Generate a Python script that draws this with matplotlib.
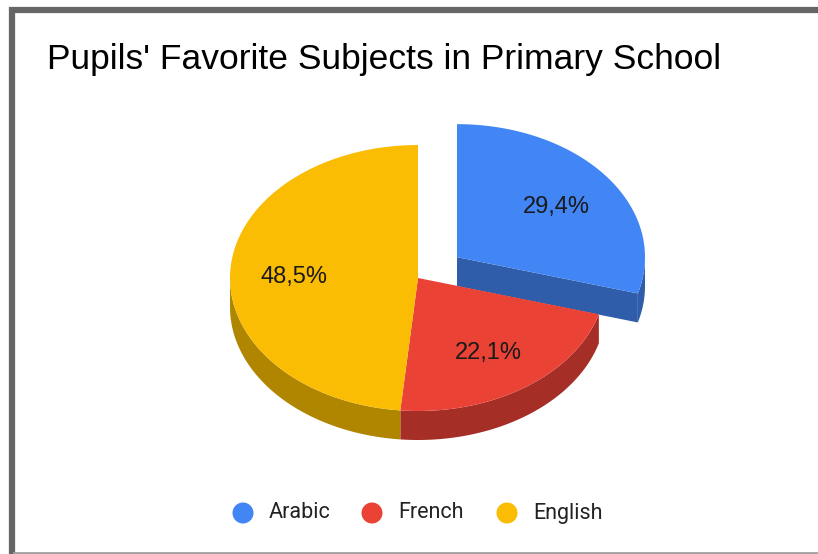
import numpy as np
import matplotlib.pyplot as plt
from matplotlib.patches import Polygon, Circle

subjects = ['Arabic', 'French', 'English']
shares = [29.4, 22.1, 48.5]
labels = ['29,4%', '22,1%', '48,5%']
top_colors = ['#4285F4', '#EA4335', '#FBBC04']
side_colors = ['#2F5DAA', '#A52E27', '#B08600']
explode = [0.26, 0, 0]

W, H = 818, 554
fig = plt.figure(figsize=(W / 100, H / 100), dpi=100)
ax = fig.add_axes([0, 0, 1, 1])
ax.set_xlim(0, W)
ax.set_ylim(H, 0)
ax.axis('off')

# frame: dark left/top edges, thin light bottom edge
ax.plot([11.5, 11.5, W], [553, 10, 10], color='#666666', lw=4.5, solid_joinstyle='miter')
ax.plot([14, W], [552.5, 552.5], color='#a0a0a0', lw=2)

ax.text(47, 60, "Pupils' Favorite Subjects in Primary School", fontsize=25.5,
        family='Liberation Sans', color='#000000', va='center', ha='left')

cx, cy = 418, 278
a, b = 188, 133
depth = 29


def pt(theta, r=1.0, ox=0.0, oy=0.0, dz=0.0):
    # theta in degrees, clockwise from 12 o'clock
    t = np.radians(theta)
    return cx + ox + a * r * np.sin(t), cy + oy - b * r * np.cos(t) + dz


def arc(t0, t1, ox, oy, dz=0.0, n=80):
    ts = np.linspace(t0, t1, n)
    return [pt(t, 1.0, ox, oy, dz) for t in ts]


bounds = np.concatenate([[0], np.cumsum(shares)]) / sum(shares) * 360
slices = []
for i in range(len(shares)):
    t0, t1 = bounds[i], bounds[i + 1]
    mid = (t0 + t1) / 2
    e = explode[i]
    ox = a * e * np.sin(np.radians(mid))
    oy = -b * e * np.cos(np.radians(mid))
    slices.append((t0, t1, ox, oy))


def draw_slice(i):
    t0, t1, ox, oy = slices[i]
    c0 = (cx + ox, cy + oy)
    # radial face at the end angle when it faces the viewer
    if 90 < t1 < 270 and explode[i] > 0:
        p_top = pt(t1, 1.0, ox, oy)
        face = [c0, p_top, (p_top[0], p_top[1] + depth), (c0[0], c0[1] + depth)]
        ax.add_patch(Polygon(face, closed=True, fc=side_colors[i], ec='none', zorder=2))
    # outer side on the front half
    s0, s1 = max(t0, 90), min(t1, 270)
    if s1 > s0:
        top = arc(s0, s1, ox, oy)
        bot = arc(s0, s1, ox, oy, depth)[::-1]
        ax.add_patch(Polygon(top + bot, closed=True, fc=side_colors[i], ec='none', zorder=2))
    face = [c0] + arc(t0, t1, ox, oy)
    ax.add_patch(Polygon(face, closed=True, fc=top_colors[i], ec='none', zorder=3))


# back slices first, exploded slice on top
for i in [1, 2, 0]:
    draw_slice(i)

for i, (t0, t1, ox, oy) in enumerate(slices):
    mid = (t0 + t1) / 2
    x, y = pt(mid, 0.66, ox, oy, 3)
    ax.text(x, y, labels[i], fontsize=17, family='Liberation Sans', color='#1a1a1a',
            ha='center', va='center', zorder=5)

# legend
lx = [243, 372, 507]
for i, name in enumerate(subjects):
    ax.add_patch(Circle((lx[i], 513), 10.5, fc=top_colors[i], ec='none'))
    ax.text(lx[i] + 26, 513, name, fontsize=15.5, family='Roboto', color='#222222',
            ha='left', va='center')

fig.savefig('out.png', dpi=100)
